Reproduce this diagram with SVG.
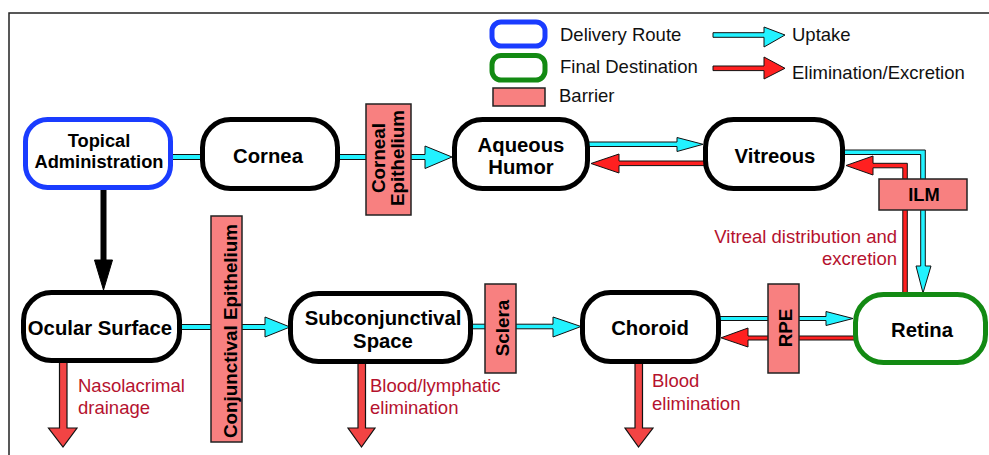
<svg xmlns="http://www.w3.org/2000/svg" width="989" height="455" viewBox="0 0 989 455">
<style>
.bg{fill:#ffffff}
.frame{stroke:#222;stroke-width:1.5;fill:none}
.node{fill:#fff;stroke:#000;stroke-width:5}
.route{fill:#fff;stroke:#1a3cff;stroke-width:5}
.dest{fill:#fff;stroke:#138a13;stroke-width:5}
.barrier{fill:#f88080;stroke:#222;stroke-width:1.5}
.lbl{font-family:"Liberation Sans",Arial,sans-serif;font-weight:bold;font-size:20.3px;fill:#000;text-anchor:middle}
.lbl18{font-family:"Liberation Sans",Arial,sans-serif;font-weight:bold;font-size:18.3px;fill:#000;text-anchor:middle}
.bar{font-family:"Liberation Sans",Arial,sans-serif;font-weight:bold;font-size:18.8px;fill:#000;text-anchor:middle}
.leg{font-family:"Liberation Sans",Arial,sans-serif;font-size:18.5px;fill:#111}
.note{font-family:"Liberation Sans",Arial,sans-serif;font-size:18.5px;fill:#b5122e}
.up{fill:#22f2ff;stroke:#111;stroke-width:1;stroke-linejoin:miter}
.el{fill:#ff2020;stroke:#111;stroke-width:1;stroke-linejoin:miter}
.eld{fill:#f24444;stroke:#111;stroke-width:1.2;stroke-linejoin:miter}
.blk{fill:#000;stroke:#000;stroke-width:1}
</style>
<rect class="bg" x="0" y="0" width="989" height="455"/>
<path class="frame" d="M9,455 V13 H989"/>

<g id="legend">
  <rect class="route" x="492" y="22" width="53" height="24" rx="9"/>
  <rect class="dest" x="492" y="55.5" width="53" height="24.5" rx="9"/>
  <rect class="barrier" x="493" y="88" width="52" height="18"/>
  <text class="leg" x="560" y="41">Delivery Route</text>
  <text class="leg" x="560" y="73">Final Destination</text>
  <text class="leg" x="559" y="102">Barrier</text>
  <path class="up" d="M713,32.7 H764 V27 L785,35 L764,47 V37.3 H713 Z"/>
  <path class="el" d="M713,66 H764 V57 L785,68.3 L764,79 V70.6 H713 Z"/>
  <text class="leg" x="792" y="41">Uptake</text>
  <text class="leg" x="792" y="79">Elimination/Excretion</text>
</g>

<g id="connectors">
  <path class="up" d="M171,154.5 H203 V159.5 H171 Z"/>
  <path class="up" d="M337,154.5 H425 V146 L452,157 L425,168.5 V159.5 H337 Z"/>
  <path class="up" d="M587,142 H677 V137.5 L703,144.3 L677,151.5 V146.5 H587 Z"/>
  <path class="el" d="M706,161 H619 V154 L591,163.5 L619,173 V165.6 H706 Z"/>
  <path class="up" d="M842,150 H925.3 V266 H931 L923,293 L916,266 H920.7 V154.5 H842 Z"/>
  <path class="el" d="M907.3,294 V163.3 H873 V156 L846,165.5 L873,175 V167.8 H902.8 V294 Z"/>
  <path class="blk" d="M101,189 H106 V260 H112.5 L103.5,290 L94.5,260 H101 Z"/>
  <path class="up" d="M178,324.5 H265 V317 L290,327 L265,337 V329.5 H178 Z"/>
  <path class="up" d="M469,324.2 H553 V317 L581,326.5 L553,337 V328.8 H469 Z"/>
  <path class="up" d="M717,316.5 H826 V311.5 L853,318.5 L826,325.5 V320.5 H717 Z"/>
  <path class="el" d="M857,336 H748 V328 L721,337.8 L748,347 V340 H857 Z"/>
  <path class="eld" d="M59.5,360 H67 V428 H77 L63,447 L48.5,428 H59.5 Z"/>
  <path class="eld" d="M358,360 H365.5 V428 H375 L361.5,447 L348,428 H358 Z"/>
  <path class="eld" d="M635,360 H642.5 V428 H653 L638.5,447 L625,428 H635 Z"/>
</g>

<g id="topical">
  <rect class="route" x="25.5" y="119.5" width="145" height="68" rx="22"/>
  <text class="lbl18" x="99" y="147">Topical</text>
  <text class="lbl18" x="99" y="168">Administration</text>
</g>
<g id="cornea">
  <rect class="node" x="202.5" y="119.5" width="135" height="69" rx="28"/>
  <text class="lbl" x="268" y="163">Cornea</text>
</g>
<g id="aqueous">
  <rect class="node" x="454.5" y="119.5" width="133" height="69" rx="28"/>
  <text class="lbl" x="521" y="152">Aqueous</text>
  <text class="lbl" x="521" y="174">Humor</text>
</g>
<g id="vitreous">
  <rect class="node" x="705.5" y="119.5" width="137" height="69" rx="28"/>
  <text class="lbl" x="775" y="163">Vitreous</text>
</g>
<g id="ocular">
  <rect class="node" x="23.5" y="292.5" width="156" height="68" rx="28"/>
  <text class="lbl" x="100" y="335">Ocular Surface</text>
</g>
<g id="subconj">
  <rect class="node" x="290.5" y="293.5" width="180" height="68" rx="28"/>
  <text class="lbl" x="383" y="325">Subconjunctival</text>
  <text class="lbl" x="383" y="348">Space</text>
</g>
<g id="choroid">
  <rect class="node" x="582.5" y="292.5" width="136" height="69" rx="28"/>
  <text class="lbl" x="650" y="335">Choroid</text>
</g>
<g id="retina">
  <rect class="dest" x="855.5" y="294.5" width="130" height="68" rx="28"/>
  <text class="lbl" x="922" y="337">Retina</text>
</g>

<g id="corneal-epithelium">
  <rect class="barrier" x="366" y="104" width="45" height="111"/>
  <text class="bar" transform="translate(384.5,158) rotate(-90)">Corneal</text>
  <text class="bar" transform="translate(403.5,158) rotate(-90)">Epithelium</text>
</g>
<g id="conjunctival-epithelium">
  <rect class="barrier" x="211" y="216" width="31" height="226"/>
  <text class="bar" transform="translate(236.5,331) rotate(-90)">Conjunctival Epithelium</text>
</g>
<g id="sclera">
  <rect class="barrier" x="485" y="284" width="31" height="89"/>
  <text class="bar" transform="translate(508.5,328) rotate(-90)">Sclera</text>
</g>
<g id="rpe">
  <rect class="barrier" x="768" y="284" width="31" height="89"/>
  <text class="bar" transform="translate(792,328) rotate(-90)">RPE</text>
</g>
<g id="ilm">
  <rect class="barrier" x="879" y="179" width="88" height="31"/>
  <text class="lbl18" x="924" y="201">ILM</text>
</g>

<g id="notes">
  <text class="note" x="897" y="243" text-anchor="end">Vitreal distribution and</text>
  <text class="note" x="897" y="265" text-anchor="end">excretion</text>
  <text class="note" x="78" y="392">Nasolacrimal</text>
  <text class="note" x="78" y="414">drainage</text>
  <text class="note" x="370" y="392">Blood/lymphatic</text>
  <text class="note" x="370" y="414">elimination</text>
  <text class="note" x="652" y="387">Blood</text>
  <text class="note" x="652" y="410">elimination</text>
</g>
</svg>
